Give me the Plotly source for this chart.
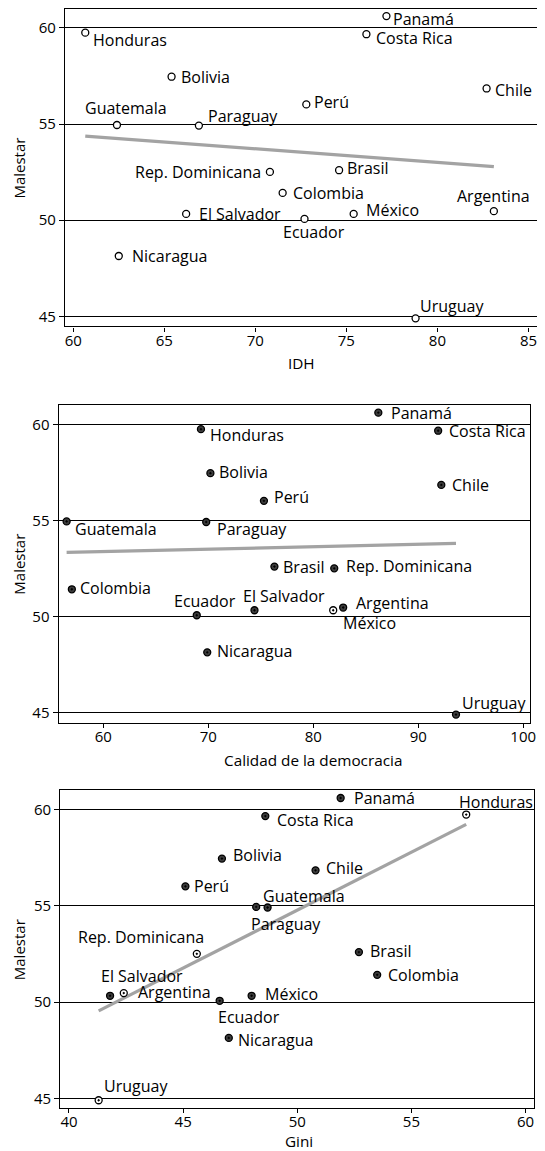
import numpy as np
import plotly.graph_objects as go

# page body has an 8px margin; the figure is sized and placed to compensate
OFF = 8
W, H = 545 - OFF, 1151 - OFF

countries = ["Honduras", "Panamá", "Costa Rica", "Bolivia", "Chile", "Perú", "Guatemala",
             "Paraguay", "Rep. Dominicana", "Brasil", "Colombia", "Argentina", "El Salvador",
             "Ecuador", "México", "Nicaragua", "Uruguay"]
malestar = [59.75, 60.61, 59.67, 57.46, 56.85, 56.02, 54.95, 54.92, 52.51, 52.6, 51.42,
            50.47, 50.33, 50.07, 50.33, 48.14, 44.9]
idh = [60.66, 77.2, 76.1, 65.4, 82.7, 72.8, 62.4, 66.9, 70.8, 74.6, 71.5, 83.1, 66.2,
       72.7, 75.4, 62.5, 78.8]
calidad = [69.3, 86.2, 91.9, 70.2, 92.2, 75.3, 56.5, 69.8, 82.0, 76.3, 57.0, 82.85, 74.4,
           68.9, 81.9, 69.9, 93.6]
gini = [57.4, 51.9, 48.6, 46.7, 50.8, 45.1, 48.2, 48.7, 45.6, 52.7, 53.5, 42.4, 41.8,
        46.6, 48.0, 47.0, 41.3]

x_titles = ["IDH", "Calidad de la democracia", "Gini"]
y_title = "Malestar"
y_ticks = [45, 50, 55, 60]
x_ticks = [[60, 65, 70, 75, 80, 85], [60, 70, 80, 90, 100], [40, 45, 50, 55, 60]]

FONT = "Open Sans"

# panel geometry in reference pixels (left, right, top, bottom), axis ranges
panels = [
    dict(box=(65.7, 543.0, 8.0, 325.7), xr=[59.55, 85.47], yr=[44.48, 60.98], xt=(305, 362.8)),
    dict(box=(59.2, 536.0, 404.3, 722.3), xr=[55.74, 100.66], yr=[44.48, 61.01], xt=(316, 759.4)),
    dict(box=(60.9, 539.5, 790.0, 1108.3), xr=[39.62, 60.35], yr=[44.48, 61.01], xt=(302, 1140.5)),
]

# label placement: (xanchor, dx px, dy px up)
lab1 = {"Honduras": ("left", 6, -7), "Panamá": ("left", 5, -3), "Costa Rica": ("left", 7.5, -4),
        "Bolivia": ("left", 7.5, 0), "Chile": ("left", 6, -2), "Perú": ("left", 6, 2),
        "Guatemala": ("center", 9.5, 17), "Paraguay": ("left", 7, 10),
        "Rep. Dominicana": ("right", -7, 0), "Brasil": ("left", 6, 2), "Colombia": ("left", 8, 0),
        "Argentina": ("center", 0, 15), "El Salvador": ("left", 11, 0),
        "Ecuador": ("center", 10, -13), "México": ("left", 10.4, 4),
        "Nicaragua": ("left", 11, 0), "Uruguay": ("left", 2.4, 12)}
lab2 = {"Honduras": ("left", 7, -6), "Panamá": ("left", 10.4, 0), "Costa Rica": ("left", 8.7, 0),
        "Bolivia": ("left", 7, 1), "Chile": ("left", 8.7, 0), "Perú": ("left", 7.6, 4),
        "Guatemala": ("left", 6, -8), "Paraguay": ("left", 8.4, -7),
        "Rep. Dominicana": ("left", 9.7, 2), "Brasil": ("left", 7, 0), "Colombia": ("left", 6.3, 1),
        "Argentina": ("left", 10.8, 5), "El Salvador": ("left", -13, 14),
        "Ecuador": ("center", 8.4, 14), "México": ("left", 7.7, -13),
        "Nicaragua": ("left", 7.7, 1), "Uruguay": ("left", 4.5, 12)}
lab3 = {"Honduras": ("left", -9.4, 13), "Panamá": ("left", 11.8, 0), "Costa Rica": ("left", 9.4, -4),
        "Bolivia": ("left", 9.4, 4), "Chile": ("left", 8, 2), "Perú": ("left", 6.3, 0),
        "Guatemala": ("left", 5.2, 11), "Paraguay": ("left", -18.4, -17),
        "Rep. Dominicana": ("right", 9.4, 17), "Brasil": ("left", 8.7, 1), "Colombia": ("left", 9, 0),
        "Argentina": ("left", 12.2, 1), "El Salvador": ("left", -11, 20),
        "Ecuador": ("left", -3.5, -16), "México": ("left", 11.8, 2),
        "Nicaragua": ("left", 7, -2), "Uruguay": ("left", 3.5, 14)}

light3 = {"Rep. Dominicana", "Uruguay", "Honduras", "Argentina"}
fills = [
    ["white"] * len(countries),
    ["white" if c == "México" else "#3c3c3c" for c in countries],
    ["white" if c in light3 else "#3c3c3c" for c in countries],
]
symbols = ["circle", "circle-dot", "circle-dot"]
xdata = [idh, calidad, gini]
labels = [lab1, lab2, lab3]


def px_x(v):
    return min(1.0, max(0.0, (v - OFF) / W))


def px_y(v):
    return min(1.0, max(0.0, 1 - (v - OFF) / H))


fig = go.Figure()
annotations = []
layout = dict(width=W, height=H, autosize=False, margin=dict(l=0, r=0, t=0, b=0, pad=0),
              plot_bgcolor="white", paper_bgcolor="white", showlegend=False,
              font=dict(family=FONT, size=15, color="black"))

for i, p in enumerate(panels):
    n = "" if i == 0 else str(i + 1)
    l, r, t, b = p["box"]
    xa = dict(domain=[px_x(l), px_x(r)], range=p["xr"], tickvals=x_ticks[i], ticks="outside",
              ticklen=4, tickcolor="black", showline=True, linecolor="black", linewidth=1.2,
              mirror=True, showgrid=False, zeroline=False, anchor="y" + n,
              ticklabelstandoff=-4,
              tickfont=dict(family=FONT, size=15, color="black"))
    ya = dict(domain=[px_y(b), px_y(t)], range=p["yr"], tickvals=y_ticks, ticks="outside",
              ticklen=5, tickcolor="black", showline=True, linecolor="black", linewidth=1.2,
              mirror=True, showgrid=True, gridcolor="black", gridwidth=1, zeroline=False,
              anchor="x" + n, tickfont=dict(family=FONT, size=15, color="black"))
    layout["xaxis" + n] = xa
    layout["yaxis" + n] = ya

    xs = np.array(xdata[i], dtype=float)
    ys = np.array(malestar, dtype=float)
    slope, intercept = np.polyfit(xs, ys, 1)
    fx = np.array([xs.min(), xs.max()])
    fig.add_trace(go.Scatter(x=fx, y=slope * fx + intercept, mode="lines",
                             line=dict(color="#a3a3a3", width=3.2),
                             xaxis="x" + n, yaxis="y" + n, hoverinfo="skip"))
    fig.add_trace(go.Scatter(x=xs, y=ys, mode="markers",
                             marker=dict(symbol=symbols[i], size=7, color=fills[i],
                                         line=dict(color="black", width=1.3)),
                             xaxis="x" + n, yaxis="y" + n, text=countries))
    for c, xv, yv in zip(countries, xs, ys):
        anc, dx, dy = labels[i][c]
        annotations.append(dict(x=xv, y=yv, xref="x" + n, yref="y" + n, text=c,
                                showarrow=False, xanchor=anc, yanchor="middle",
                                xshift=dx, yshift=dy,
                                font=dict(family=FONT, size=16, color="black")))
    # axis titles
    annotations.append(dict(x=px_x(p["xt"][0]), y=px_y(p["xt"][1]), xref="paper", yref="paper",
                            text=x_titles[i], showarrow=False, xanchor="center", yanchor="middle",
                            font=dict(family=FONT, size=15.3, color="black")))
    annotations.append(dict(x=px_x(19), y=px_y((t + b) / 2), xref="paper", yref="paper",
                            text=y_title, showarrow=False, textangle=-90, xanchor="center",
                            yanchor="middle", font=dict(family=FONT, size=15, color="black")))

layout["annotations"] = annotations
fig.update_layout(**layout)
fig.write_html("out.html")
